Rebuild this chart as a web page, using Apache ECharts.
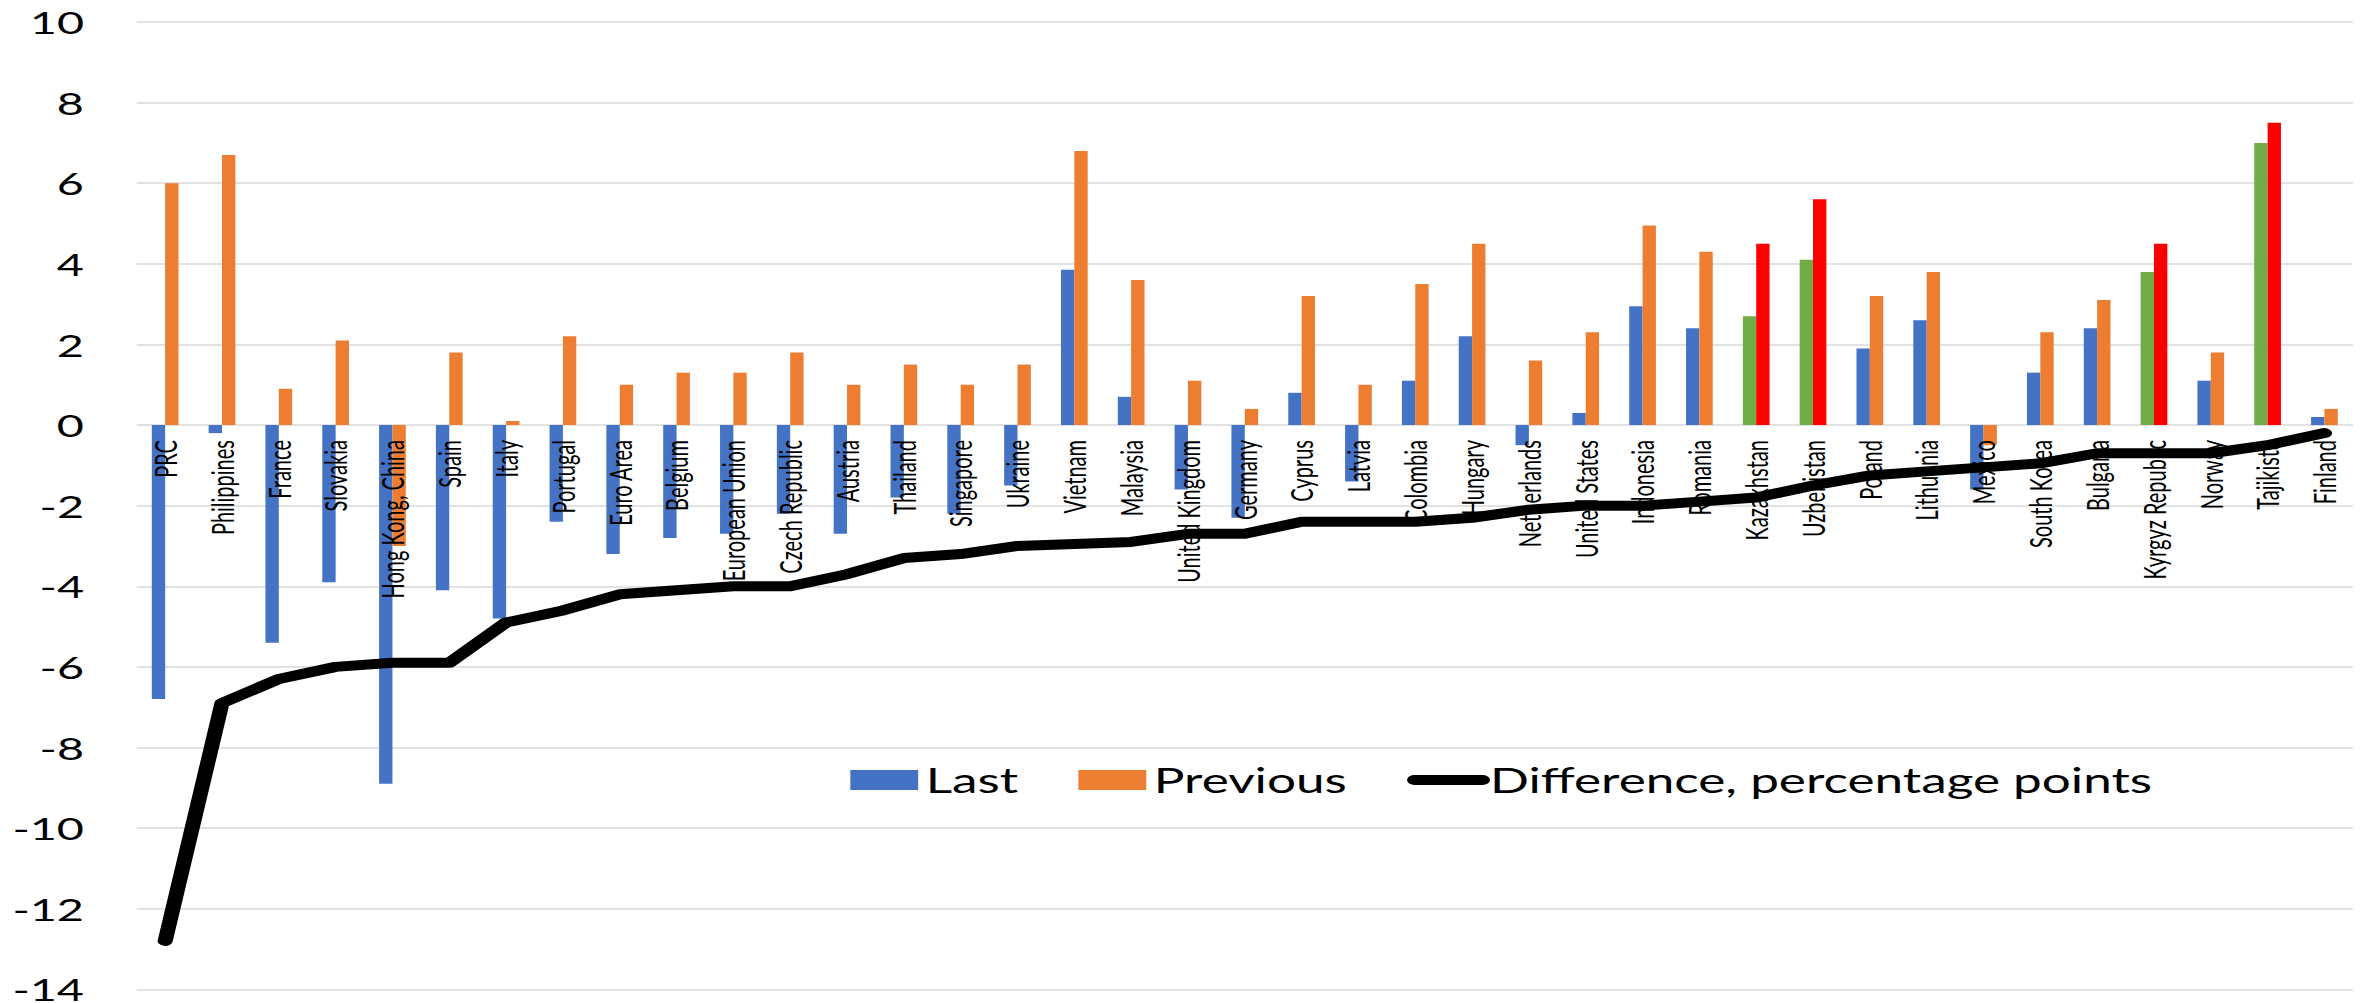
<!DOCTYPE html>
<html>
<head>
<meta charset="utf-8">
<title>Last vs Previous</title>
<script src="https://cdn.jsdelivr.net/npm/echarts@6/dist/echarts.min.js"></script>
<style>
  html, body { margin: 0; padding: 0; background: #fff; overflow: hidden; }
  /* chart laid out at 1568 px wide, then widened to the 2364 px page */
  #chart { width: 1568px; height: 1003px; transform: scaleX(1.5076531); transform-origin: 0 0; }
</style>
</head>
<body>
<div id="chart"></div>
<script>
const categories = [
  'PRC', 'Philippines', 'France', 'Slovakia', 'Hong Kong, China', 'Spain', 'Italy',
  'Portugal', 'Euro Area', 'Belgium', 'European Union', 'Czech Republic', 'Austria',
  'Thailand', 'Singapore', 'Ukraine', 'Vietnam', 'Malaysia', 'United Kingdom', 'Germany',
  'Cyprus', 'Latvia', 'Colombia', 'Hungary', 'Netherlands', 'United States', 'Indonesia',
  'Romania', 'Kazakhstan', 'Uzbekistan', 'Poland', 'Lithuania', 'Mexico', 'South Korea',
  'Bulgaria', 'Kyrgyz Republic', 'Norway', 'Tajikista', 'Finland'
];

const lastValues = [
  -6.8, -0.2, -5.4, -3.9, -8.9, -4.1, -4.8, -2.4, -3.2, -2.8, -2.7, -2.2, -2.7,
  -1.8, -2.2, -1.5, 3.85, 0.7, -1.6, -2.3, 0.8, -1.4, 1.1, 2.2, -0.5, 0.3, 2.95,
  2.4, 2.7, 4.1, 1.9, 2.6, -1.6, 1.3, 2.4, 3.8, 1.1, 7.0, 0.2
];

const previousValues = [
  6.0, 6.7, 0.9, 2.1, -3.0, 1.8, 0.1, 2.2, 1.0, 1.3, 1.3, 1.8, 1.0,
  1.5, 1.0, 1.5, 6.8, 3.6, 1.1, 0.4, 3.2, 1.0, 3.5, 4.5, 1.6, 2.3, 4.95,
  4.3, 4.5, 5.6, 3.2, 3.8, -0.5, 2.3, 3.1, 4.5, 1.8, 7.5, 0.4
];

const differenceValues = [
  -12.8, -6.9, -6.3, -6.0, -5.9, -5.9, -4.9, -4.6, -4.2, -4.1, -4.0, -4.0, -3.7,
  -3.3, -3.2, -3.0, -2.95, -2.9, -2.7, -2.7, -2.4, -2.4, -2.4, -2.3, -2.1, -2.0, -2.0,
  -1.9, -1.8, -1.5, -1.25, -1.15, -1.05, -0.95, -0.7, -0.7, -0.7, -0.5, -0.2
];

// Central Asian economies get their own bar colours
const highlighted = ['Kazakhstan', 'Uzbekistan', 'Kyrgyz Republic', 'Tajikista'];

const seriesNames = ['Last', 'Previous', 'Difference, percentage points'];

const Y_MIN = -14, Y_MAX = 10, Y_STEP = 2;

const COLORS = {
  last: '#4472C4',
  previous: '#ED7D31',
  lastHi: '#70AD47',
  previousHi: '#FF0000',
  line: '#000000',
  grid: '#D9D9D9'
};
const FONT = 'Lato, "Open Sans", sans-serif';

function barData(values, hiColor) {
  return values.map((v, i) =>
    highlighted.includes(categories[i])
      ? { value: v, itemStyle: { color: hiColor } }
      : v
  );
}

const chart = echarts.init(document.getElementById('chart'), null, { renderer: 'svg' });

chart.setOption({
  animation: false,
  backgroundColor: '#fff',
  grid: {
    left: 90.7, right: 7.4, top: 22, bottom: 13.7,
    containLabel: false, outerBoundsMode: 'none'
  },
  legend: {
    left: 559, top: 758,
    itemWidth: 45, itemHeight: 20, itemGap: 40,
    textStyle: { fontFamily: FONT, fontSize: 34, color: '#000' },
    data: [
      { name: seriesNames[0], icon: 'rect' },
      { name: seriesNames[1], icon: 'rect' },
      { name: seriesNames[2], itemStyle: { opacity: 0 },
        lineStyle: { width: 10, cap: 'round', color: COLORS.line } }
    ]
  },
  xAxis: {
    type: 'category',
    data: categories,
    position: 'bottom',
    z: 3,
    axisLine: { show: false, onZero: false },
    axisTick: { show: false },
    splitLine: { show: false },
    axisLabel: {
      rotate: 90, interval: 0, margin: 15,
      fontFamily: FONT, fontSize: 20, color: '#000'
    }
  },
  yAxis: {
    type: 'value',
    min: Y_MIN, max: Y_MAX, interval: Y_STEP,
    axisLine: { show: false },
    axisTick: { show: false },
    splitLine: { lineStyle: { color: COLORS.grid, width: 1.5 } },
    axisLabel: { margin: 35, fontFamily: FONT, fontSize: 31, lineHeight: 24, color: '#000' }
  },
  series: [
    {
      name: seriesNames[0], type: 'bar', z: 2,
      barGap: '0%', barCategoryGap: '53%',
      itemStyle: { color: COLORS.last },
      data: barData(lastValues, COLORS.lastHi)
    },
    {
      name: seriesNames[1], type: 'bar', z: 2,
      barGap: '0%', barCategoryGap: '53%',
      itemStyle: { color: COLORS.previous },
      data: barData(previousValues, COLORS.previousHi)
    },
    {
      name: seriesNames[2], type: 'line', z: 4,
      symbol: 'none', smooth: false,
      itemStyle: { color: COLORS.line },
      lineStyle: { color: COLORS.line, width: 10, cap: 'round', join: 'round' },
      data: differenceValues
    }
  ]
});

// Lift the category axis from the grid's bottom edge up to the zero line
const zeroPx = chart.convertToPixel({ yAxisIndex: 0 }, 0);
const bottomPx = chart.convertToPixel({ yAxisIndex: 0 }, Y_MIN);
chart.setOption({ xAxis: { offset: zeroPx - bottomPx } });
</script>
</body>
</html>
